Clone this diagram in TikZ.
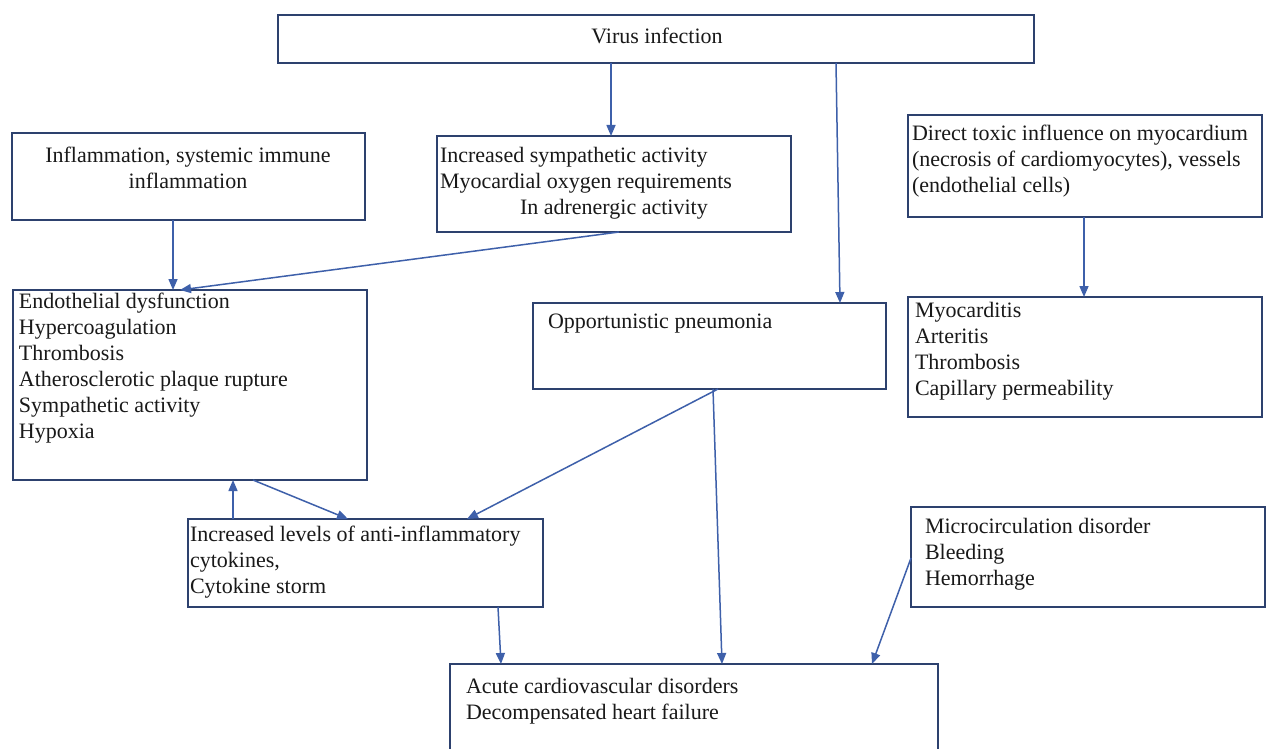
\documentclass[tikz,border=0pt]{standalone}
\usepackage{fontspec}
\setmainfont{Liberation Serif}
\usetikzlibrary{arrows.meta}
\definecolor{boxc}{RGB}{45,65,110}
\definecolor{arrc}{RGB}{62,96,170}
\tikzset{
  box/.style={draw=boxc, line width=2pt, rectangle, inner sep=0pt, outer sep=0pt, anchor=north west},
  txt/.style={inner sep=0pt, outer sep=0pt, font=\fontsize{22}{26}\selectfont, text=black!90},
  arr/.style={draw=arrc, line width=1.5pt, -{Triangle[length=11pt,width=9pt]}}
}
\begin{document}
\begin{tikzpicture}[x=1pt,y=-1pt]
\path[use as bounding box, clip] (0,0) rectangle (1266,749);
\fill[white] (0,0) rectangle (1266,749);
% boxes
\node[box, minimum width=756pt, minimum height=48pt] (virus) at (278,15) {};
\node[box, minimum width=353pt, minimum height=87pt] (infl) at (12,133) {};
\node[box, minimum width=354pt, minimum height=96pt] (symp) at (437,136) {};
\node[box, minimum width=354pt, minimum height=102pt] (direct) at (908,115) {};
\node[box, minimum width=354pt, minimum height=190pt] (endo) at (13,290) {};
\node[box, minimum width=353pt, minimum height=86pt] (opp) at (533,303) {};
\node[box, minimum width=354pt, minimum height=120pt] (myo) at (908,297) {};
\node[box, minimum width=355pt, minimum height=88pt] (cyt) at (188,519) {};
\node[box, minimum width=354pt, minimum height=100pt] (micro) at (911,507) {};
\node[box, minimum width=488pt, minimum height=120pt] (acute) at (450,664) {};
% texts
\node[txt, anchor=north] (tvirus) at (657,28) {Virus infection};
\node[txt, anchor=north, align=center] (tinfl) at (188,147) {Inflammation, systemic immune\\inflammation};
\node[txt, anchor=north west, align=left] (tsymp) at (440,147) {Increased sympathetic activity\\Myocardial oxygen requirements\\\hspace*{80pt}In adrenergic activity};
\node[txt, anchor=north west, align=left] (tdirect) at (912,125) {Direct toxic influence on myocardium\\(necrosis of cardiomyocytes), vessels\\(endothelial cells)};
\node[txt, anchor=north west, align=left] (tendo) at (19,293) {Endothelial dysfunction\\Hypercoagulation\\Thrombosis\\Atherosclerotic plaque rupture\\Sympathetic activity\\Hypoxia};
\node[txt, anchor=north west] (topp) at (548,314) {Opportunistic pneumonia};
\node[txt, anchor=north west, align=left] (tmyo) at (915,302) {Myocarditis\\Arteritis\\Thrombosis\\Capillary permeability};
\node[txt, anchor=north west, align=left] (tcyt) at (190,526) {Increased levels of anti-inflammatory\\cytokines,\\Cytokine storm};
\node[txt, anchor=north west, align=left] (tmicro) at (925,518) {Microcirculation disorder\\Bleeding\\Hemorrhage};
\node[txt, anchor=north west, align=left] (tacute) at (466,678) {Acute cardiovascular disorders\\Decompensated heart failure};
% arrows
\draw[arr] ([xshift=333pt]virus.south west) -- ([xshift=174pt]symp.north west);
\draw[arr] ([xshift=558pt]virus.south west) -- ([xshift=307pt]opp.north west);
\draw[arr] ([xshift=161pt]infl.south west) -- ([xshift=160pt]endo.north west);
\draw[arr] ([xshift=182pt]symp.south west) -- ([xshift=167pt]endo.north west);
\draw[arr] ([xshift=176pt]direct.south west) -- ([xshift=176pt]myo.north west);
\draw[arr] ([xshift=185pt]opp.south west) -- ([xshift=279pt]cyt.north west);
\draw[arr] ([xshift=180pt]opp.south west) -- ([xshift=272pt]acute.north west);
\draw[arr] ([xshift=240pt]endo.south west) -- ([xshift=160pt]cyt.north west);
\draw[arr] ([xshift=45pt]cyt.north west) -- ([xshift=220pt]endo.south west);
\draw[arr] ([xshift=310pt]cyt.south west) -- ([xshift=51pt]acute.north west);
\draw[arr] ([yshift=-51pt]micro.north west) -- ([xshift=422pt]acute.north west);
\end{tikzpicture}
\end{document}
